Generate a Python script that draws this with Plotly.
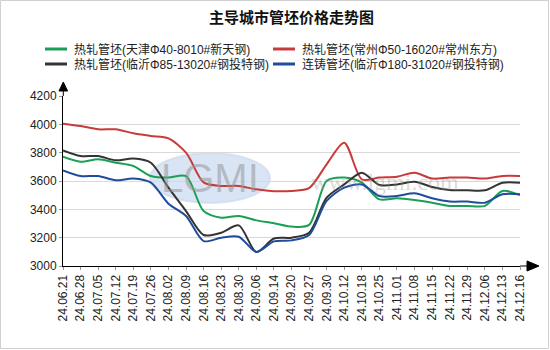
import plotly.graph_objects as go

categories = ["24.06.21", "24.06.28", "24.07.05", "24.07.12", "24.07.19", "24.07.26",
              "24.08.02", "24.08.09", "24.08.16", "24.08.23", "24.08.30", "24.09.06",
              "24.09.14", "24.09.20", "24.09.27", "24.09.30", "24.10.12", "24.10.18",
              "24.10.25", "24.11.01", "24.11.08", "24.11.15", "24.11.22", "24.11.29",
              "24.12.06", "24.12.13", "24.12.16"]

tianjin = [3772, 3736, 3753, 3729, 3706, 3635, 3624, 3635, 3388, 3341, 3353, 3322,
           3302, 3278, 3290, 3600, 3624, 3588, 3470, 3478, 3466, 3447, 3424, 3424,
           3424, 3530, 3501]
changzhou = [4005, 3988, 3965, 3965, 3937, 3918, 3901, 3800, 3590, 3565, 3565, 3541,
             3528, 3530, 3550, 3718, 3870, 3612, 3624, 3630, 3659, 3617, 3624, 3624,
             3617, 3635, 3635]
linyi85 = [3816, 3776, 3776, 3746, 3758, 3729, 3553, 3388, 3219, 3235, 3287, 3099,
           3194, 3200, 3235, 3482, 3576, 3659, 3572, 3576, 3595, 3558, 3536, 3534,
           3534, 3588, 3588]
linyi180 = [3675, 3635, 3635, 3605, 3617, 3588, 3440, 3353, 3176, 3200, 3207, 3099,
            3174, 3181, 3219, 3459, 3553, 3576, 3494, 3494, 3513, 3478, 3455, 3455,
            3447, 3506, 3506]

names = ["热轧管坯(天津Φ40-8010#新天钢)", "热轧管坯(常州Φ50-16020#常州东方)",
         "热轧管坯(临沂Φ85-13020#钢投特钢)", "连铸管坯(临沂Φ180-31020#钢投特钢)"]
series = [tianjin, changzhou, linyi85, linyi180]
colors = ["#1a9f55", "#c83b3b", "#333333", "#1f4c9c"]

y_ticks = [3000, 3200, 3400, 3600, 3800, 4000, 4200]

fig = go.Figure()
for n, s, c in zip(names, series, colors):
    fig.add_trace(go.Scatter(x=categories, y=s, name=n, mode="lines", showlegend=False,
                             line=dict(color=c, width=2, shape="spline", smoothing=0.8)))

W, H = 550, 350
L, R, T, B = 63, 30, 96, 84
pw, ph = W - L - R, H - T - B


def px(x):
    return (x - L) / pw


def py(y):
    return (H - B - y) / ph


shapes = [
    # watermark ellipse
    dict(type="circle", xref="paper", yref="paper", x0=px(150), x1=px(270), y0=py(203), y1=py(153),
         fillcolor="rgba(170,195,230,0.45)", line=dict(color="rgba(200,215,235,0.6)", width=2), layer="below"),
    # outer border
    dict(type="rect", xref="paper", yref="paper", x0=px(0.5), x1=px(548.5), y0=py(348.5), y1=py(0.5),
         line=dict(color="#d0d0d0", width=1)),
    # y-axis arrow
    dict(type="path", xref="paper", yref="paper",
         path=f"M {px(63.3)},{py(82)} L {px(59)},{py(91)} L {px(67.6)},{py(91)} Z",
         fillcolor="black", line=dict(color="black", width=1)),
    dict(type="line", xref="paper", yref="paper", x0=px(63.3), x1=px(63.3), y0=1, y1=py(90),
         line=dict(color="black", width=1)),
    # x-axis extension + arrow
    dict(type="line", xref="paper", yref="paper", x0=1, x1=px(528), y0=0, y1=0,
         line=dict(color="black", width=1)),
    dict(type="path", xref="paper", yref="paper",
         path=f"M {px(539)},{py(266)} L {px(527)},{py(261)} L {px(527)},{py(271)} Z",
         fillcolor="black", line=dict(color="black", width=1)),
]

annotations = [
    dict(text="LGMI", xref="paper", yref="paper", x=px(210), y=py(178), showarrow=False,
         font=dict(family="Liberation Sans", size=40, color="rgba(150,150,150,0.55)"),
         xanchor="center", yanchor="middle"),
    dict(text="www.lgmi.com", xref="paper", yref="paper", x=px(385), y=py(182), showarrow=False,
         font=dict(family="Liberation Serif", size=24, color="rgba(150,150,150,0.35)"),
         xanchor="center", yanchor="middle"),
]

# manual two-column legend
leg_pos = [(45, 49), (273, 49), (45, 64), (273, 64)]
for (lx, ly), n, c in zip(leg_pos, names, colors):
    shapes.append(dict(type="line", xref="paper", yref="paper", x0=px(lx), x1=px(lx + 22),
                       y0=py(ly), y1=py(ly), line=dict(color=c, width=3)))
    annotations.append(dict(text=n, xref="paper", yref="paper", x=px(lx + 27), y=py(ly),
                            xanchor="left", yanchor="middle", showarrow=False,
                            font=dict(family="Liberation Sans, Noto Sans CJK SC", size=12, color="#222")))

fig.update_layout(
    width=W, height=H,
    margin=dict(l=L, r=R, t=T, b=B),
    paper_bgcolor="white", plot_bgcolor="white",
    font=dict(family="Liberation Sans, Noto Sans CJK SC", size=12, color="#222"),
    title=dict(text="<b>主导城市管坯价格走势图</b>", x=0.5, xref="paper", xanchor="center",
               y=1 - 18 / H, yanchor="middle",
               font=dict(family="Noto Sans CJK SC", size=15, color="#111")),
    showlegend=False,
    xaxis=dict(type="category", range=[0, 26], showgrid=False, showline=True,
               linecolor="black", linewidth=1, ticks="outside", ticklen=3, tickcolor="#999",
               tickangle=-90, tickfont=dict(size=12, color="#222"), fixedrange=True),
    yaxis=dict(range=[3000, 4200], tickvals=y_ticks, showgrid=True, gridcolor="#d9d9d9",
               gridwidth=1, showline=True, linecolor="black", linewidth=1, ticks="outside",
               ticklen=3, tickcolor="#999", zeroline=False, tickfont=dict(size=12, color="#222")),
    shapes=shapes,
    annotations=annotations,
)

fig.write_html("out.html")
